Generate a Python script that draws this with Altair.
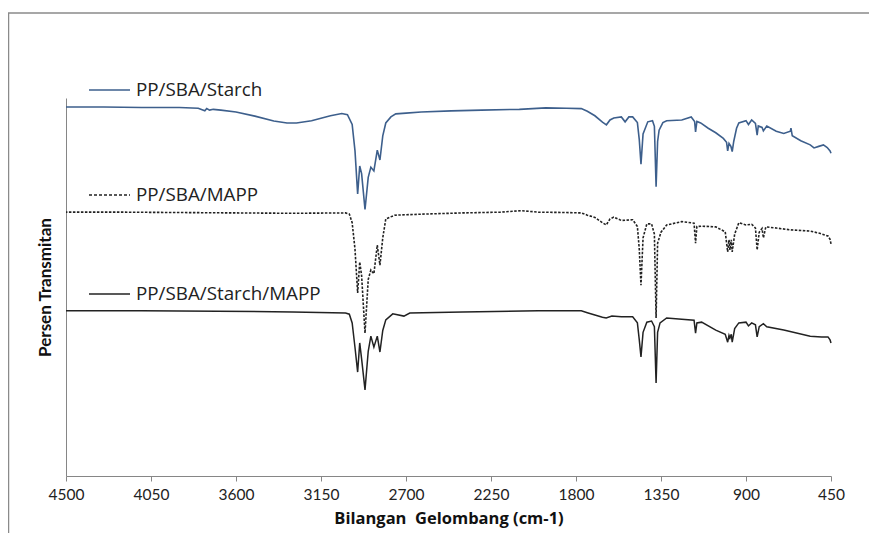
import altair as alt
import pandas as pd

# ---- data (wavenumber cm-1, relative transmittance) ----
wn_starch = [4500, 4300, 4100, 3900, 3800, 3765, 3755, 3740, 3720, 3680,
             3600, 3500, 3400, 3330, 3280, 3200, 3100, 3040, 3010, 2985,
             2970, 2956, 2945, 2935, 2917, 2900, 2886, 2870, 2852, 2838,
             2823, 2807, 2780, 2754, 2700, 2620, 2460, 2300, 2100, 1960,
             1850, 1772, 1740, 1700, 1660, 1639, 1620, 1600, 1560, 1540,
             1520, 1500, 1475, 1465, 1456, 1445, 1420, 1395, 1385, 1376,
             1368, 1360, 1340, 1320, 1240, 1190, 1172, 1167, 1160, 1140,
             1100, 1060, 1020, 1003, 997, 990, 980, 973, 965, 950,
             938, 900, 887, 870, 850, 841, 835, 815, 808, 790,
             740, 700, 665, 662, 655, 610, 560, 540, 515, 490,
             470, 455, 450]
t_starch = [97.6, 97.6, 97.5, 97.5, 97.3, 96.6, 97.2, 96.8, 97.0, 96.8,
            96.3, 95.2, 93.9, 93.4, 93.4, 94.0, 95.3, 95.9, 95.6, 93.0,
            86.0, 74.6, 82.0, 80.0, 70.5, 79.0, 81.7, 80.7, 86.2, 83.6,
            90.0, 93.4, 95.0, 95.8, 96.0, 96.3, 96.6, 96.8, 97.0, 97.4,
            97.3, 97.2, 96.5, 95.3, 93.6, 92.9, 94.2, 94.7, 95.0, 93.7,
            95.0, 95.0, 93.5, 89.0, 82.5, 90.5, 93.7, 94.0, 92.5, 76.5,
            88.5, 91.5, 93.5, 94.0, 94.2, 95.0, 93.8, 91.0, 93.8, 93.4,
            92.0, 90.8, 89.3, 88.3, 86.0, 88.0, 87.2, 85.8, 88.5, 92.0,
            93.4, 94.0, 93.0, 94.2, 93.3, 90.2, 92.6, 92.2, 91.3, 92.6,
            91.2, 90.6, 91.2, 92.0, 90.0, 88.7, 87.6, 86.8, 87.2, 87.6,
            86.9, 86.0, 85.4]

wn_mapp = [4500, 4200, 3900, 3600, 3300, 3020, 3000, 2985, 2970, 2956,
           2945, 2935, 2917, 2900, 2886, 2870, 2852, 2838, 2823, 2807,
           2760, 2600, 2400, 2200, 2090, 2000, 1850, 1772, 1740, 1700,
           1660, 1640, 1620, 1600, 1560, 1500, 1475, 1465, 1456, 1445,
           1425, 1400, 1385, 1376, 1368, 1350, 1320, 1240, 1175, 1167,
           1160, 1135, 1060, 1010, 997, 990, 985, 978, 973, 960,
           938, 900, 870, 850, 841, 830, 815, 808, 795, 740,
           660, 560, 510, 466, 455, 450]
t_mapp = [69.8, 69.8, 69.7, 69.6, 69.5, 69.6, 69.3, 67.0, 60.0, 48.4,
          56.6, 53.0, 37.8, 52.0, 54.5, 53.5, 61.1, 55.8, 63.0, 68.0,
          69.0, 69.3, 69.6, 69.8, 70.2, 69.8, 69.7, 69.6, 69.0, 68.4,
          67.0, 66.4, 68.0, 68.5, 67.6, 67.8, 66.0, 60.0, 50.5, 63.0,
          66.7, 66.7, 64.0, 41.8, 61.6, 64.5, 66.4, 67.3, 66.9, 61.6,
          66.0, 66.1, 65.9, 64.6, 59.3, 62.5, 59.8, 62.5, 59.3, 64.0,
          67.0, 66.4, 66.6, 65.6, 59.8, 64.5, 65.5, 63.0, 65.9, 65.6,
          65.1, 64.8, 64.2, 63.5, 62.6, 61.4]

wn_sm = [4500, 4100, 3700, 3300, 3020, 3000, 2985, 2970, 2956, 2945,
         2935, 2917, 2900, 2886, 2870, 2852, 2838, 2823, 2807, 2770,
         2711, 2680, 2400, 2000, 1772, 1740, 1700, 1660, 1640, 1610,
         1560, 1500, 1475, 1465, 1456, 1445, 1425, 1400, 1385, 1376,
         1368, 1355, 1320, 1240, 1175, 1167, 1160, 1135, 1060, 1010,
         997, 990, 985, 978, 973, 960, 938, 900, 887, 870,
         850, 841, 830, 808, 790, 700, 560, 500, 466, 455,
         450]
t_sm = [43.7, 43.7, 43.6, 43.4, 43.1, 42.8, 40.5, 34.0, 27.5, 35.2,
        31.0, 22.8, 33.0, 37.0, 34.1, 37.0, 32.8, 38.5, 41.3, 42.9,
        42.3, 43.1, 43.4, 43.7, 43.7, 43.2, 42.6, 42.0, 41.8, 42.3,
        42.1, 42.1, 40.5, 36.0, 31.5, 38.0, 40.7, 41.0, 39.5, 24.6,
        38.0, 40.5, 41.8, 41.5, 41.2, 37.8, 40.5, 40.7, 38.6, 37.5,
        35.4, 37.2, 36.5, 37.5, 35.4, 39.0, 40.5, 40.7, 39.7, 40.5,
        40.0, 36.8, 39.5, 40.3, 39.5, 38.6, 37.0, 36.8, 36.8, 36.0,
        35.2]

series_names = ["PP/SBA/Starch", "PP/SBA/MAPP", "PP/SBA/Starch/MAPP"]
x_ticks = [4500, 4050, 3600, 3150, 2700, 2250, 1800, 1350, 900, 450]

FONT = "Lato"
WIDE = "Open Sans"
GRAY = "#868686"

df_starch = pd.DataFrame({"wn": wn_starch, "t": t_starch})
df_mapp = pd.DataFrame({"wn": wn_mapp, "t": t_mapp})
df_sm = pd.DataFrame({"wn": wn_sm, "t": t_sm})
one = pd.DataFrame({"k": [0]})

x_enc = alt.X("wn:Q",
              scale=alt.Scale(domain=[4500, 450], nice=False, zero=False),
              axis=alt.Axis(values=x_ticks, format="d",
                            title="Bilangan\u00a0 Gelombang (cm-1)",
                            grid=False, domainColor=GRAY, tickColor=GRAY, tickSize=5,
                            labelFont=FONT, labelFontSize=15.5, labelColor="#222222",
                            labelPadding=6, labelFlush=False, labelOverlap=False,
                            titleFont=WIDE, titleFontSize=16.5, titleFontWeight="bold",
                            titleColor="#111111", titlePadding=8))
y_enc = alt.Y("t:Q",
              scale=alt.Scale(domain=[0, 100], nice=False, zero=False),
              axis=alt.Axis(title="Persen Transmitan", grid=False, ticks=False, labels=False,
                            domainColor=GRAY, titleFont=FONT, titleFontSize=17,
                            titleFontWeight="bold", titleColor="#111111", titlePadding=12))

line_starch = alt.Chart(df_starch).mark_line(color="#3d5f8c", strokeWidth=1.6).encode(
    x=x_enc, y=y_enc, order="wn:Q")
line_mapp = alt.Chart(df_mapp).mark_line(color="#222222", strokeWidth=1.6, strokeDash=[2.5, 1.5]).encode(
    x=x_enc, y=y_enc, order="wn:Q")
line_sm = alt.Chart(df_sm).mark_line(color="#222222", strokeWidth=1.5).encode(
    x=x_enc, y=y_enc, order="wn:Q")

# outer chart frame
frame = alt.Chart(one).mark_rect(filled=False, stroke="#8a8a8a", strokeWidth=1.5).encode(
    x=alt.value(-57.5), x2=alt.value(830), y=alt.value(-85), y2=alt.value(460))

# inline legend entries
leg_layers = []
leg_specs = [
    (series_names[0], -8, "#3d5f8c", None),
    (series_names[1], 97, "#222222", [3, 2]),
    (series_names[2], 196, "#222222", None),
]
for name, yy, col, dash in leg_specs:
    kw = dict(color=col, strokeWidth=1.6)
    if dash:
        kw["strokeDash"] = dash
    leg_layers.append(alt.Chart(one).mark_rule(**kw).encode(
        x=alt.value(23), x2=alt.value(64), y=alt.value(yy)))
    leg_layers.append(alt.Chart(one).mark_text(
        text=name, align="left", baseline="middle", font=WIDE, fontSize=18.8,
        color="#222222").encode(x=alt.value(70), y=alt.value(yy)))

chart = alt.layer(frame, line_starch, line_mapp, line_sm, *leg_layers).properties(
    width=765, height=378,
    autosize=alt.AutoSizeParams(type="none"),
    padding={"left": 58, "top": 90, "right": 38, "bottom": 57},
).configure_view(stroke=None)

chart.save("out.html", embed_options={"renderer": "svg", "actions": False})
